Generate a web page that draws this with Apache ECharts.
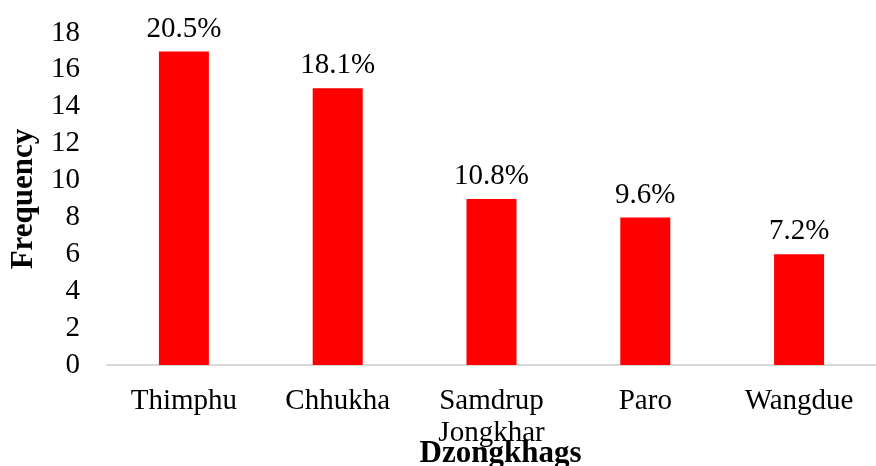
<html lang="en">
<head>
    <meta charset="UTF-8">
    <title>Dzongkhags</title>
    <script src="https://cdn.jsdelivr.net/npm/echarts@6/dist/echarts.min.js"></script>
</head>
<body style="margin:0">
<div id="main" style="width: 876px;height:466px;"></div>
<script type="text/javascript">
    var categories = ['Thimphu', 'Chhukha', 'Samdrup Jongkhar', 'Paro', 'Wangdue'];
    var frequency = [17, 15, 9, 8, 6];
    var percentLabels = ['20.5%', '18.1%', '10.8%', '9.6%', '7.2%'];

    var font = '"Liberation Serif", "Times New Roman", serif';
    var myChart = echarts.init(document.getElementById('main'));
    var option = {
        animation: false,
        grid: { left: 107, right: 0, top: 33, bottom: 101, outerBoundsMode: 'none', containLabel: false },
        xAxis: {
            type: 'category',
            data: categories,
            name: 'Dzongkhags',
            nameLocation: 'middle',
            nameGap: 73,
            nameMoveOverlap: false,
            nameTextStyle: { fontFamily: font, fontSize: 31, fontWeight: 'bold', color: '#000', padding: [0, 0, 0, 18] },
            axisLine: { lineStyle: { color: '#d9d9d9', width: 2 } },
            axisTick: { show: false },
            axisLabel: {
                fontFamily: font, fontSize: 29, color: '#000', margin: 20, lineHeight: 32,
                interval: 0,
                formatter: function (v) { return v.replace(' ', '\n'); }
            }
        },
        yAxis: {
            type: 'value',
            min: 0, max: 18, interval: 2,
            name: 'Frequency',
            nameLocation: 'middle',
            nameGap: 68,
            nameMoveOverlap: false,
            nameTextStyle: { fontFamily: font, fontSize: 31, fontWeight: 'bold', color: '#000' },
            splitLine: { show: false },
            axisLine: { show: false },
            axisTick: { show: false },
            axisLabel: { fontFamily: font, fontSize: 29, color: '#000', margin: 27 }
        },
        series: [{
            type: 'bar',
            data: frequency,
            barWidth: 50,
            itemStyle: { color: '#ff0000' },
            label: {
                show: true,
                position: 'top',
                distance: 8,
                fontFamily: font, fontSize: 29, color: '#000',
                formatter: function (p) { return percentLabels[p.dataIndex]; }
            }
        }]
    };
    myChart.setOption(option);
</script>
</body>
</html>
